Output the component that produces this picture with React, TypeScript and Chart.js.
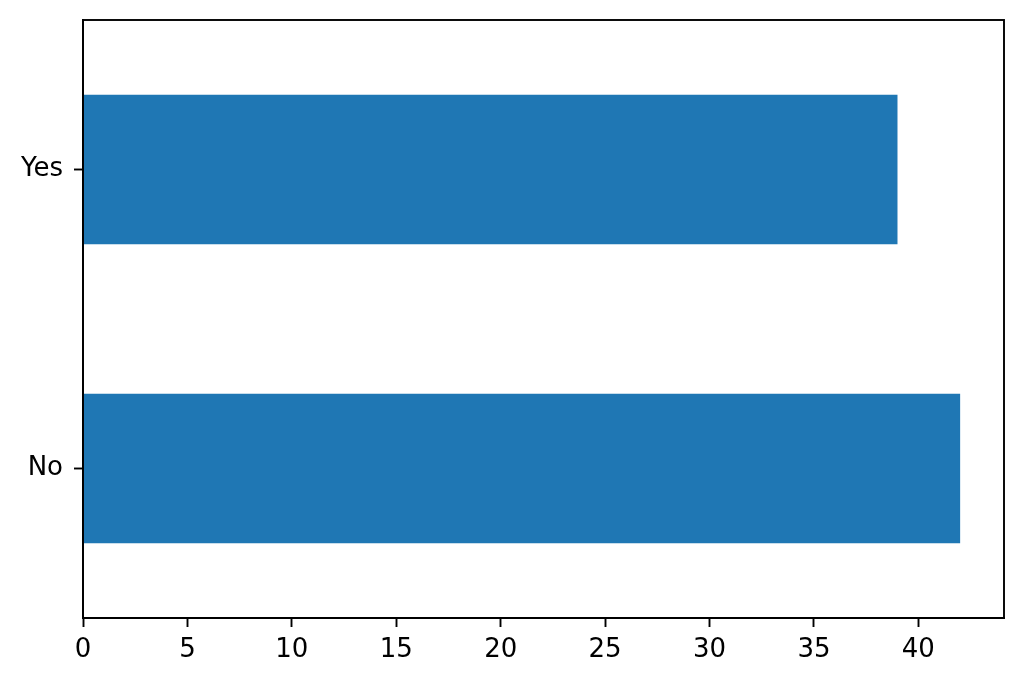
import React, { useEffect, useRef } from "react";
import { Chart, registerables } from "chart.js";

Chart.register(...registerables);

const categories = ["Yes", "No"];
const counts = [39, 42];
const xTicks = [0, 5, 10, 15, 20, 25, 30, 35, 40];
const xMax = 44.1;

const framePlugin = {
  id: "frame",
  afterDraw(chart: any) {
    const { ctx, chartArea } = chart;
    ctx.save();
    ctx.strokeStyle = "#000";
    ctx.lineWidth = 1.9;
    ctx.strokeRect(chartArea.left, chartArea.top, chartArea.right - chartArea.left, chartArea.bottom - chartArea.top);
    ctx.restore();
  },
};

export default function App() {
  const ref = useRef<HTMLCanvasElement>(null);
  useEffect(() => {
    if (!ref.current) return;
    const font = { family: "DejaVu Sans", size: 26 };
    const chart = new Chart(ref.current, {
      type: "bar",
      data: {
        labels: categories,
        datasets: [
          {
            data: counts,
            backgroundColor: "#1f77b4",
            borderWidth: 0,
            barPercentage: 0.5,
            categoryPercentage: 1,
          },
        ],
      },
      options: {
        indexAxis: "y",
        animation: false,
        responsive: false,
        maintainAspectRatio: false,
        layout: { padding: { left: 0, top: 20, right: 20, bottom: 0 } },
        plugins: { legend: { display: false }, tooltip: { enabled: false } },
        scales: {
          x: {
            type: "linear",
            min: 0,
            max: xMax,
            afterBuildTicks: (axis: any) => {
              axis.ticks = xTicks.map((v) => ({ value: v }));
            },
            afterFit: (scale: any) => {
              scale.height = 67;
              scale.paddingLeft = 0;
              scale.paddingRight = 0;
            },
            grid: {
              display: true,
              drawOnChartArea: false,
              drawTicks: true,
              tickLength: 9,
              tickColor: "#000",
              tickWidth: 1.9,
            },
            border: { display: true, color: "#000", width: 1.9 },
            ticks: { color: "#000", font, padding: 8, maxRotation: 0, autoSkip: false },
          },
          y: {
            type: "category",
            offset: true,
            afterFit: (scale: any) => {
              scale.width = 83;
              scale.paddingTop = 0;
              scale.paddingBottom = 0;
            },
            grid: {
              display: true,
              drawOnChartArea: false,
              drawTicks: true,
              tickLength: 9,
              tickColor: "#000",
              tickWidth: 1.9,
              offset: false,
            },
            border: { display: true, color: "#000", width: 1.9 },
            ticks: { color: "#000", font, padding: 11 },
          },
        },
      },
      plugins: [framePlugin],
    });
    return () => chart.destroy();
  }, []);
  return (
    <div style={{ position: "absolute", left: 0, top: 0, width: 1024, height: 685, background: "#fff" }}>
      <canvas ref={ref} width={1024} height={685} style={{ display: "block" }} />
    </div>
  );
}
